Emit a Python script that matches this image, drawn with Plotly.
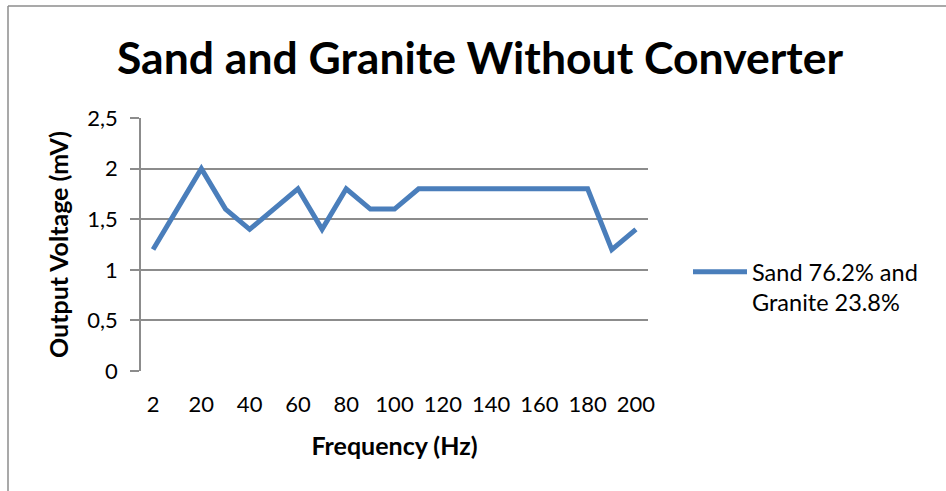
import plotly.graph_objects as go

frequencies = ["2", "10", "20", "30", "40", "50", "60", "70", "80", "90", "100",
               "110", "120", "130", "140", "150", "160", "170", "180", "190", "200"]
voltage = [1.2, 1.6, 2.0, 1.6, 1.4, 1.6, 1.8, 1.4, 1.8, 1.6, 1.6,
           1.8, 1.8, 1.8, 1.8, 1.8, 1.8, 1.8, 1.8, 1.2, 1.4]
series_name = "Sand 76.2% and<br>Granite 23.8%"
title_text = "Sand and Granite Without Converter"
x_title = "Frequency (Hz)"
y_title = "Output Voltage (mV)"

FONT = "Lato, 'Open Sans', sans-serif"
idx = list(range(len(frequencies)))

fig = go.Figure()
fig.add_trace(go.Scatter(
    x=idx, y=voltage, mode="lines", name=series_name,
    line=dict(color="#4a7ebb", width=5),
    showlegend=True,
))

W, H = 946, 491
L, R, T, B = 141, 298, 118, 120
pw = W - L - R
ph = H - T - B

def px_x(p):
    return (p - L) / pw

def px_y(p):
    return (H - B - p) / ph

fig.update_layout(
    width=W, height=H,
    margin=dict(l=L, r=R, t=T, b=B),
    paper_bgcolor="white", plot_bgcolor="white",
    separators=", ",
    font=dict(family=FONT, size=22, color="black"),
    title=dict(text="<b>" + title_text + "</b>", xref="container", x=480 / W,
               xanchor="center", yref="container", y=1 - 58 / H, yanchor="middle",
               font=dict(size=44.5, family=FONT)),
    xaxis=dict(
        range=[-0.5, len(frequencies) - 0.5],
        tickmode="array",
        tickvals=idx[::2],
        ticktext=frequencies[::2],
        showgrid=False, zeroline=False,
        showline=False, ticks="",
        tickfont=dict(size=22),
        ticklabelstandoff=18,
        title=dict(text="<b>" + x_title + "</b>", font=dict(size=25), standoff=21),
    ),
    yaxis=dict(
        range=[0, 2.5], dtick=0.5, tick0=0,
        showgrid=True, gridcolor="#8c8c8c", gridwidth=1.5,
        zeroline=False,
        showline=True, linecolor="#8c8c8c", linewidth=1.5,
        ticks="outside", ticklen=9, tickcolor="#8c8c8c", tickwidth=1.5,
        tickfont=dict(size=22),
        ticklabelstandoff=8,
        title=dict(text="<b>" + y_title + "</b>", font=dict(size=25), standoff=12),
    ),
    legend=dict(x=px_x(688), y=px_y(250), xanchor="left", yanchor="top",
                font=dict(size=23.5), itemwidth=54, bgcolor="rgba(0,0,0,0)",
                valign="top", tracegroupgap=0),
    shapes=[
        dict(type="line", xref="paper", yref="paper",
             x0=px_x(8), x1=px_x(8), y0=px_y(6), y1=px_y(520),
             line=dict(color="#8c8c8c", width=1.5)),
        dict(type="line", xref="paper", yref="paper",
             x0=px_x(8), x1=px_x(990), y0=px_y(6), y1=px_y(6),
             line=dict(color="#8c8c8c", width=1.5)),
    ],
)

fig.write_html("out.html")
